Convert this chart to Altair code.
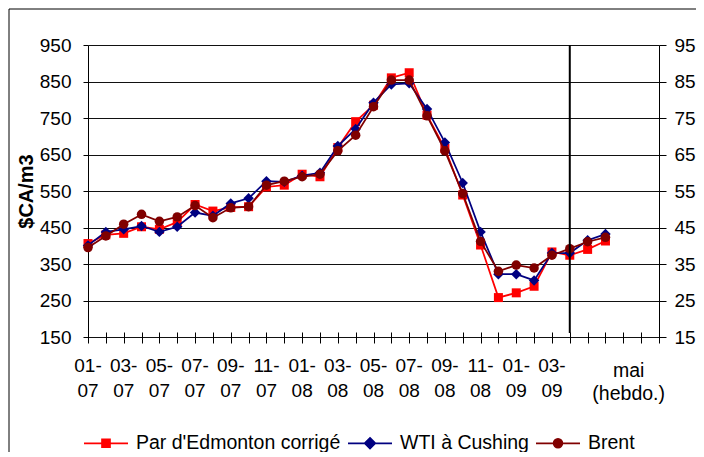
import altair as alt
import pandas as pd

FONT = "Liberation Sans"

series = ["Par d'Edmonton corrigé", "WTI à Cushing", "Brent"]
colors = ["#FF0000", "#000080", "#800000"]
shapes = ["square", "diamond", "circle"]
marker_sizes = [81, 110, 90]
legend_paths = [
    "M-1,0H1M-0.18,-0.18H0.18V0.18H-0.18Z",
    "M-1,0H1M0,-0.24L0.24,0L0,0.24L-0.24,0Z",
    "M-1,0H1M0.2,0A0.2,0.2,0,1,1,-0.2,0A0.2,0.2,0,1,1,0.2,0Z",
]

idx = list(range(30))
edmonton = [406, 430, 434, 452, 445, 465, 513, 495, 505, 507, 561, 566, 596, 589, 669,
            740, 785, 860, 874, 758, 667, 539, 402, 258, 271, 289, 383, 374, 390, 413]
wti = [401, 438, 445, 454, 438, 452, 491, 482, 516, 530, 577, 575, 592, 600, 673,
       720, 792, 842, 845, 775, 683, 572, 438, 322, 322, 305, 380, 380, 415, 432]
brent = [395, 427, 459, 486, 467, 479, 510, 477, 504, 507, 566, 577, 589, 596, 660,
         703, 781, 854, 854, 756, 660, 543, 412, 330, 347, 339, 374, 392, 411, 423]

month_pos = [0, 2, 4, 6, 8, 10, 12, 14, 16, 18, 20, 22, 24, 26]
month_top = ["01-", "03-", "05-", "07-", "09-", "11-", "01-", "03-", "05-", "07-", "09-", "11-", "01-", "03-"]
month_bottom = ["07", "07", "07", "07", "07", "07", "08", "08", "08", "08", "08", "08", "09", "09"]
weekly_pos = [30.3]
weekly_label = ["mai\n(hebdo.)"]
marker_pos = [27]
y_ticks = [150, 250, 350, 450, 550, 650, 750, 850, 950]
x_ticks = list(range(33))

W, H = 571, 292

rows = []
for s, vals in zip(series, [edmonton, wti, brent]):
    for i, v in zip(idx, vals):
        rows.append({"idx": i, "value": v, "series": s})
df = pd.DataFrame(rows)

xscale = alt.Scale(domain=[0, 32], nice=False, zero=False)
yscale = alt.Scale(domain=[150, 950], nice=False, zero=False)
cscale = alt.Scale(domain=series, range=colors)
sscale = alt.Scale(domain=series, range=colors)

x_axis = alt.Axis(values=x_ticks, labels=False, tickSize=11, offset=-5, domain=False,
                  grid=False, tickColor="black", tickWidth=1, title=None)
left_axis = alt.Axis(values=y_ticks, orient="left", title="$CA/m3", titleFontSize=20,
                     titleFontWeight="bold", titleFont=FONT, titleColor="black",
                     titleX=-62, titleY=146, titleAlign="center", titleBaseline="middle",
                     labelFontSize=19, labelFont=FONT, labelColor="black", labelPadding=12,
                     tickSize=5, tickColor="black", domainColor="black", domainWidth=1,
                     grid=True, gridColor="#111111", gridWidth=1)
right_axis = alt.Axis(values=y_ticks, orient="right", title=None, grid=False,
                      labelFontSize=19, labelFont=FONT, labelColor="black", labelPadding=8,
                      tickSize=7, tickColor="black", domainColor="black", domainWidth=1)

frame = alt.Chart(pd.DataFrame({"k": [0]})).mark_rect(
    fill="transparent", stroke="black", strokeWidth=1
).encode(x=alt.value(-79), x2=alt.value(W + 200), y=alt.value(-36), y2=alt.value(H + 300))

layers = [frame]
for i, s in enumerate(series):
    base = alt.Chart(df).transform_filter(alt.FieldEqualPredicate(field="series", equal=s))
    line = base.mark_line(strokeWidth=1.75, color=colors[i]).encode(
        x=alt.X("idx:Q", scale=xscale, axis=x_axis),
        y=alt.Y("value:Q", scale=yscale, axis=left_axis if i == 0 else None),
    )
    pts = base.mark_point(filled=True, shape=shapes[i], size=marker_sizes[i], opacity=1,
                          color=colors[i]).encode(
        x=alt.X("idx:Q", scale=xscale, axis=x_axis),
        y=alt.Y("value:Q", scale=yscale, axis=None),
    )
    layers += [line, pts]

vline = alt.Chart(pd.DataFrame({"x": marker_pos})).mark_rule(color="black", strokeWidth=2).encode(
    x=alt.X("x:Q", scale=xscale, axis=x_axis), y=alt.value(0), y2=alt.value(H - 4)
)

month_df = pd.DataFrame({"pos": month_pos, "label": [a + "\n" + b for a, b in zip(month_top, month_bottom)]})
month_text = alt.Chart(month_df).mark_text(
    lineBreak="\n", align="center", baseline="alphabetic", fontSize=19, font=FONT,
    lineHeight=24.5, color="black"
).encode(x=alt.X("pos:Q", scale=xscale, axis=x_axis), y=alt.value(H + 35), text="label:N")

weekly_df = pd.DataFrame({"pos": weekly_pos, "label": weekly_label})
weekly_text = alt.Chart(weekly_df).mark_text(
    lineBreak="\n", align="center", baseline="alphabetic", fontSize=19.5, font=FONT,
    lineHeight=23, color="black"
).encode(x=alt.X("pos:Q", scale=xscale, axis=x_axis), y=alt.value(H + 40), text="label:N")

leg = alt.Legend(title=None, orient="none", legendX=-5, legendY=375, direction="horizontal",
                 columns=3, symbolSize=1936, symbolStrokeWidth=1.75, labelFontSize=19.5,
                 labelFont=FONT, labelColor="black", labelOffset=7, columnPadding=3,
                 padding=0, symbolOpacity=1, labelLimit=0)

legend_layer = alt.Chart(df).mark_point(filled=True, opacity=0).encode(
    x=alt.X("idx:Q", scale=xscale, axis=x_axis),
    y=alt.Y("value:Q", scale=yscale, axis=right_axis),
    color=alt.Color("series:N", scale=cscale, legend=leg),
    stroke=alt.Stroke("series:N", scale=sscale, legend=leg),
    shape=alt.Shape("series:N", scale=alt.Scale(domain=series, range=legend_paths), legend=leg),
)

layers += [vline, month_text, weekly_text, legend_layer]

chart = alt.layer(*layers).resolve_axis(y="independent").properties(
    width=W, height=H,
    padding={"left": 80, "top": 37, "right": 37, "bottom": 115},
    autosize=alt.AutoSizeParams(type="none"),
    background="white",
).configure_view(strokeWidth=0)

chart.save("out.html", embed_options={"renderer": "svg", "actions": False})
